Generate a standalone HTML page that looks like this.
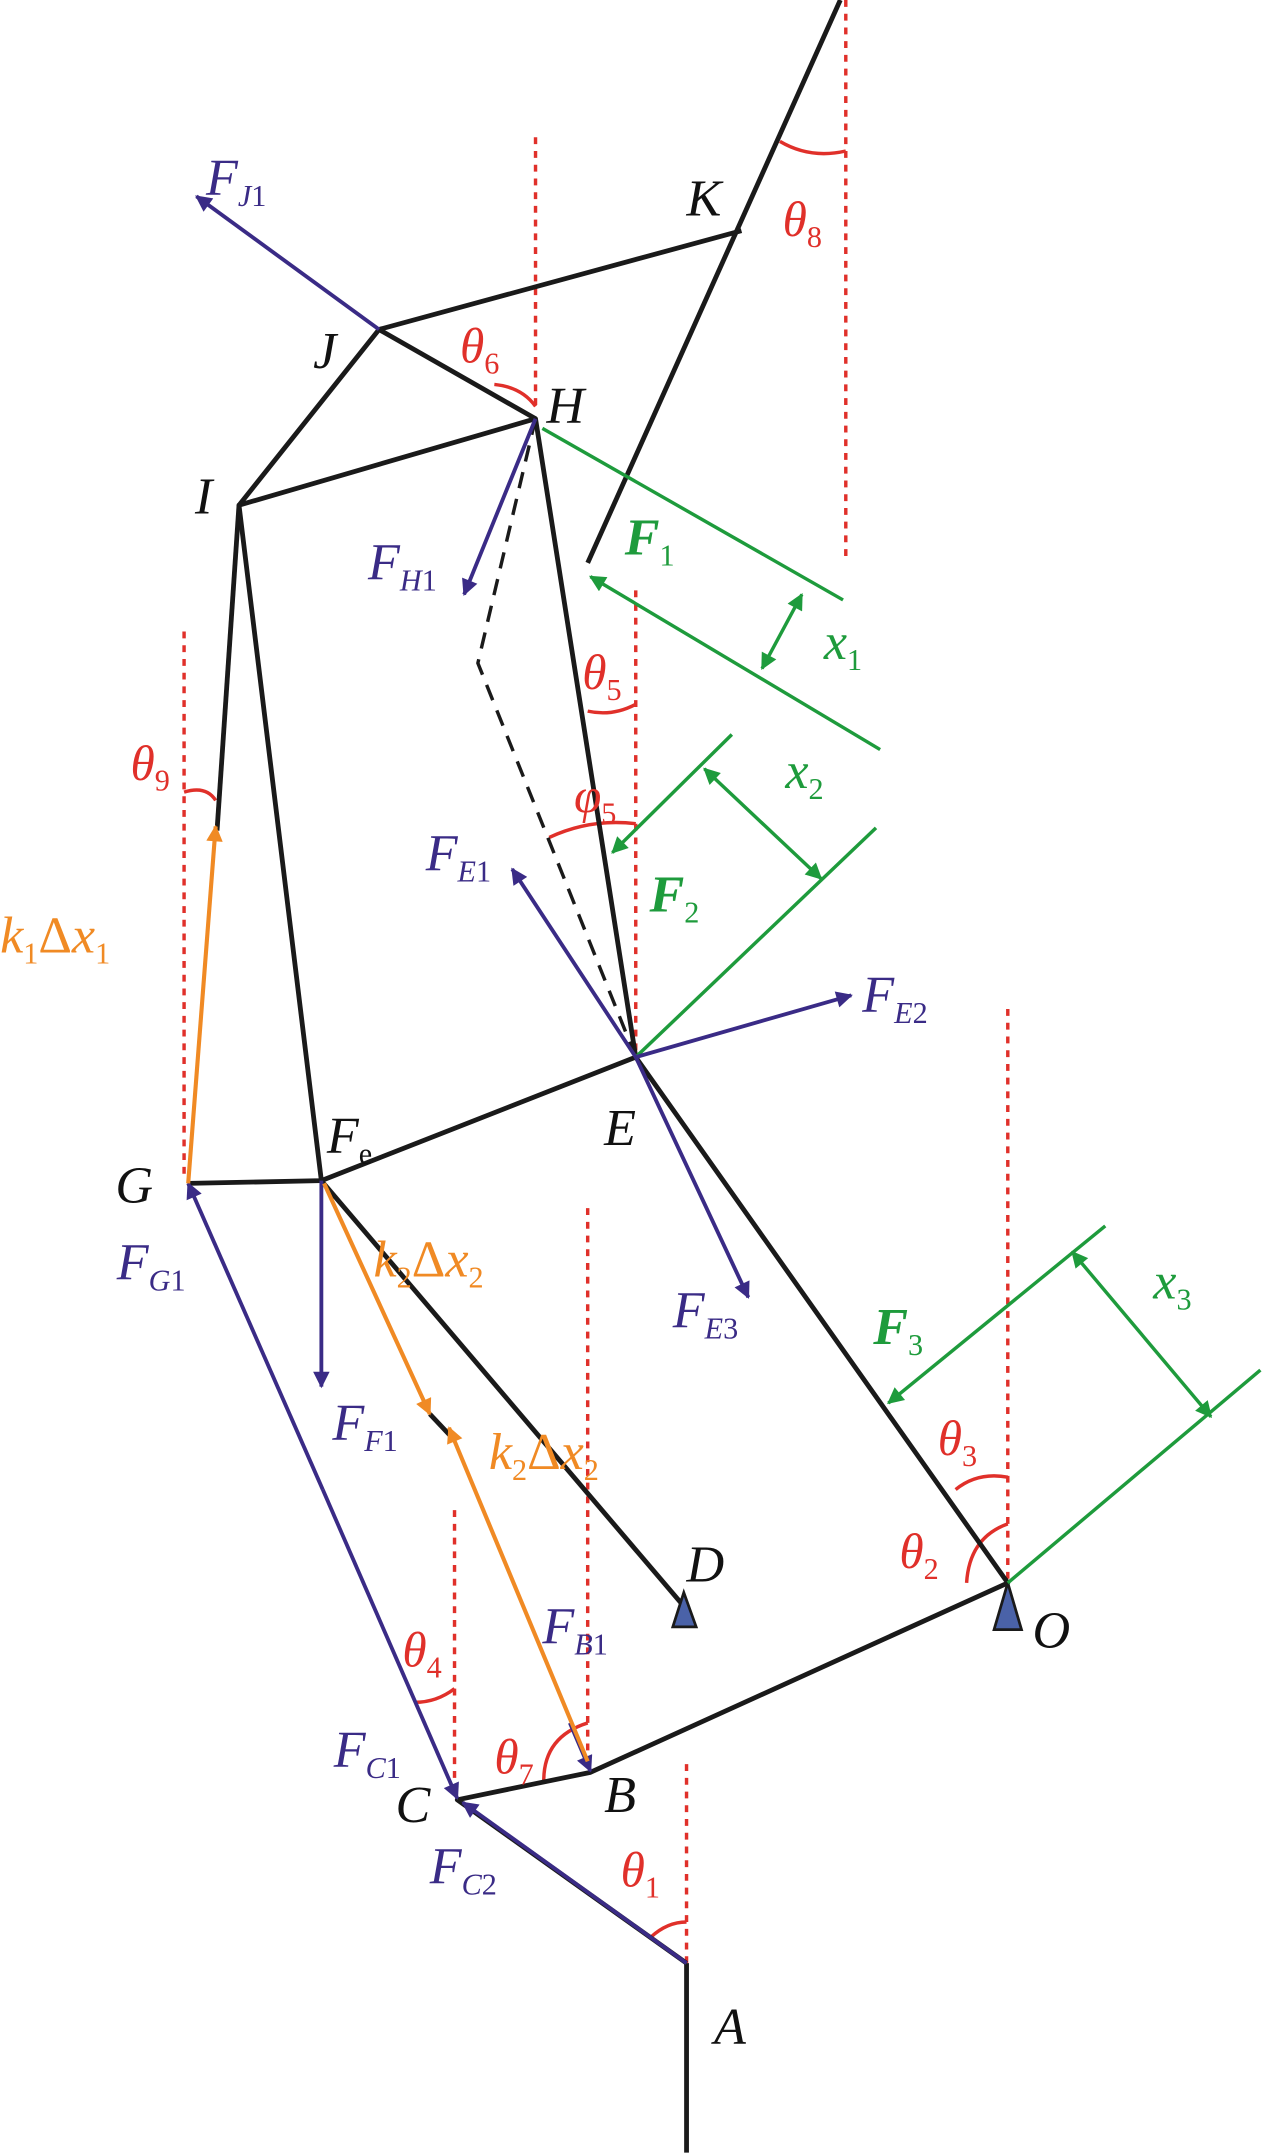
<!DOCTYPE html>
<html><head><meta charset="utf-8"><style>
html,body{margin:0;padding:0;background:#fff;}
svg{display:block;}
text{font-family:"Liberation Serif",serif;font-style:italic;}
</style></head><body>
<svg width="1266" height="2154" viewBox="0 0 922 1569" xmlns="http://www.w3.org/2000/svg">
<defs>
<marker id="pp" viewBox="0 0 10 10" refX="9" refY="5" markerWidth="18" markerHeight="12" orient="auto" markerUnits="userSpaceOnUse"><path d="M0,0 L10,5 L0,10 z" fill="#3a2b86"/></marker>
<marker id="g" viewBox="0 0 10 10" refX="9" refY="5" markerWidth="18" markerHeight="12" orient="auto" markerUnits="userSpaceOnUse"><path d="M0,0 L10,5 L0,10 z" fill="#1e9b3c"/></marker>
<marker id="gs" viewBox="0 0 10 10" refX="9" refY="5" markerWidth="18" markerHeight="12" orient="auto-start-reverse" markerUnits="userSpaceOnUse"><path d="M0,0 L10,5 L0,10 z" fill="#1e9b3c"/></marker>
<marker id="o" viewBox="0 0 10 10" refX="9" refY="5" markerWidth="18" markerHeight="12" orient="auto" markerUnits="userSpaceOnUse"><path d="M0,0 L10,5 L0,10 z" fill="#f08a24"/></marker>
</defs>
<g stroke="#e0302a" stroke-width="2.5" stroke-dasharray="5,5" fill="none">
<line x1="390" y1="100" x2="390" y2="300"/>
<line x1="616" y1="0" x2="616" y2="405"/>
<line x1="463" y1="430" x2="463" y2="770"/>
<line x1="134" y1="460" x2="134" y2="860"/>
<line x1="734" y1="735" x2="734" y2="1153"/>
<line x1="428" y1="880" x2="428" y2="1290"/>
<line x1="331" y1="1100" x2="331" y2="1310"/>
<line x1="500" y1="1285" x2="500" y2="1430"/>
</g>
<g stroke="#e0302a" stroke-width="2.5" fill="none">
<path d="M568,103 Q590,116 616,110"/>
<path d="M360,280 Q380,282 390,296"/>
<path d="M428,518 Q446,522 463,513"/>
<path d="M400,610 Q430,596 463,600"/>
<path d="M134,577 Q150,572 157,583"/>
<path d="M696,1085 Q712,1072 734,1076"/>
<path d="M704,1153 Q706,1120 734,1110"/>
<path d="M302,1240 Q318,1240 331,1230"/>
<path d="M396,1297 Q396,1265 428,1255"/>
<path d="M474,1411 Q486,1400 500,1400"/>
</g>
<g stroke="#1a1a1a" stroke-width="3.5" fill="none" stroke-linejoin="round">
<line x1="500" y1="1430" x2="500" y2="1568"/>
<polyline points="500,1430 333,1311 430,1291 734,1153 463,770 234,860 137,862"/>
<line x1="234" y1="860" x2="498" y2="1170"/>
<polyline points="234,860 174,368 390,305 463,770"/>
<polyline points="174,368 276,240 540,168"/>
<line x1="276" y1="240" x2="390" y2="305"/>
<line x1="158" y1="605" x2="174" y2="368"/>
<line x1="612" y1="0" x2="428" y2="410"/>
<line x1="313" y1="1030" x2="330" y2="1048"/>
<polyline points="390,305 348,483 463,770" stroke-dasharray="12,8" stroke-width="2.5"/>
</g>
<path d="M498,1160 L490,1185 L507,1185 Z" fill="#4a62a8" stroke="#1a1a1a" stroke-width="2"/>
<path d="M734,1153 L724,1187 L744,1187 Z" fill="#4a62a8" stroke="#1a1a1a" stroke-width="2"/>
<g stroke="#1e9b3c" stroke-width="2.5" fill="none">
<line x1="395" y1="312" x2="614" y2="437"/>
<line x1="641" y1="546" x2="430" y2="420" marker-end="url(#g)"/>
<line x1="584" y1="433" x2="555" y2="487" marker-start="url(#gs)" marker-end="url(#gs)"/>
<line x1="533" y1="535" x2="446" y2="621" marker-end="url(#g)"/>
<line x1="463" y1="770" x2="638" y2="603"/>
<line x1="513" y1="560" x2="598" y2="640" marker-start="url(#gs)" marker-end="url(#gs)"/>
<line x1="805" y1="893" x2="647" y2="1022" marker-end="url(#g)"/>
<line x1="734" y1="1153" x2="918" y2="998"/>
<line x1="781" y1="912" x2="882" y2="1032" marker-start="url(#gs)" marker-end="url(#gs)"/>
</g>
<g stroke="#3a2b86" stroke-width="2.8" fill="none">
<line x1="276" y1="240" x2="143" y2="143" marker-end="url(#pp)"/>
<line x1="390" y1="305" x2="338" y2="433" marker-end="url(#pp)"/>
<line x1="463" y1="770" x2="373" y2="633" marker-end="url(#pp)"/>
<line x1="463" y1="770" x2="620" y2="725" marker-end="url(#pp)"/>
<line x1="463" y1="770" x2="545" y2="945" marker-end="url(#pp)"/>
<line x1="235" y1="1085" x2="137" y2="862" marker-end="url(#pp)"/>
<line x1="235" y1="1085" x2="333" y2="1310" marker-end="url(#pp)"/>
<line x1="234" y1="860" x2="234" y2="1010" marker-end="url(#pp)"/>
<line x1="500" y1="1430" x2="337" y2="1313" marker-end="url(#pp)"/>
<line x1="415" y1="1255" x2="430" y2="1290" marker-end="url(#pp)"/>
</g>
<g stroke="#f08a24" stroke-width="3" fill="none">
<line x1="137" y1="862" x2="157" y2="602" marker-end="url(#o)"/>
<line x1="236" y1="862" x2="313" y2="1030" marker-end="url(#o)"/>
<line x1="428" y1="1283" x2="327" y2="1040" marker-end="url(#o)"/>
</g>
<g font-size="38" fill="#111">
<text x="500" y="157">K</text>
<text x="228" y="268">J</text>
<text x="398" y="308">H</text>
<text x="142" y="374">I</text>
<text x="440" y="834">E</text>
<text x="238" y="840">F<tspan font-size="22" font-style="normal" dy="8">e</tspan></text>
<text x="84" y="876">G</text>
<text x="500" y="1152">D</text>
<text x="752" y="1200">O</text>
<text x="440" y="1320">B</text>
<text x="288" y="1327">C</text>
<text x="520" y="1489">A</text>
</g>
<g font-size="38" fill="#3a2b86">
<text x="150" y="142">F<tspan font-size="22" dy="8">J</tspan><tspan font-size="22" font-style="normal">1</tspan></text>
<text x="268" y="422">F<tspan font-size="22" dy="8">H</tspan><tspan font-size="22" font-style="normal">1</tspan></text>
<text x="310" y="634">F<tspan font-size="22" dy="8">E</tspan><tspan font-size="22" font-style="normal">1</tspan></text>
<text x="628" y="737">F<tspan font-size="22" dy="8">E</tspan><tspan font-size="22" font-style="normal">2</tspan></text>
<text x="85" y="932">F<tspan font-size="22" dy="8">G</tspan><tspan font-size="22" font-style="normal">1</tspan></text>
<text x="490" y="967">F<tspan font-size="22" dy="8">E</tspan><tspan font-size="22" font-style="normal">3</tspan></text>
<text x="242" y="1049">F<tspan font-size="22" dy="8">F</tspan><tspan font-size="22" font-style="normal">1</tspan></text>
<text x="395" y="1197">F<tspan font-size="22" dy="8">B</tspan><tspan font-size="22" font-style="normal">1</tspan></text>
<text x="243" y="1287">F<tspan font-size="22" dy="8">C</tspan><tspan font-size="22" font-style="normal">1</tspan></text>
<text x="313" y="1372">F<tspan font-size="22" dy="8">C</tspan><tspan font-size="22" font-style="normal">2</tspan></text>
</g>
<g font-size="38" fill="#1e9b3c">
<text x="455" y="404" font-weight="bold">F<tspan font-size="22" font-weight="normal" font-style="normal" dy="8">1</tspan></text>
<text x="600" y="480">x<tspan font-size="22" font-style="normal" dy="8">1</tspan></text>
<text x="572" y="574">x<tspan font-size="22" font-style="normal" dy="8">2</tspan></text>
<text x="473" y="664" font-weight="bold">F<tspan font-size="22" font-weight="normal" font-style="normal" dy="8">2</tspan></text>
<text x="636" y="979" font-weight="bold">F<tspan font-size="22" font-weight="normal" font-style="normal" dy="8">3</tspan></text>
<text x="840" y="946">x<tspan font-size="22" font-style="normal" dy="8">3</tspan></text>
</g>
<g font-size="38" fill="#f08a24">
<text x="0" y="694">k<tspan font-size="22" font-style="normal" dy="8">1</tspan><tspan font-style="normal" dy="-8">Δ</tspan>x<tspan font-size="22" font-style="normal" dy="8">1</tspan></text>
<text x="272" y="930">k<tspan font-size="22" font-style="normal" dy="8">2</tspan><tspan font-style="normal" dy="-8">Δ</tspan>x<tspan font-size="22" font-style="normal" dy="8">2</tspan></text>
<text x="356" y="1070">k<tspan font-size="22" font-style="normal" dy="8">2</tspan><tspan font-style="normal" dy="-8">Δ</tspan>x<tspan font-size="22" font-style="normal" dy="8">2</tspan></text>
</g>
<g font-size="36" fill="#e0302a">
<text x="570" y="172">θ<tspan font-size="22" font-style="normal" dy="8">8</tspan></text>
<text x="335" y="264">θ<tspan font-size="22" font-style="normal" dy="8">6</tspan></text>
<text x="424" y="502">θ<tspan font-size="22" font-style="normal" dy="8">5</tspan></text>
<text x="418" y="592">φ<tspan font-size="22" font-style="normal" dy="8">5</tspan></text>
<text x="95" y="568">θ<tspan font-size="22" font-style="normal" dy="8">9</tspan></text>
<text x="683" y="1060">θ<tspan font-size="22" font-style="normal" dy="8">3</tspan></text>
<text x="655" y="1142">θ<tspan font-size="22" font-style="normal" dy="8">2</tspan></text>
<text x="293" y="1214">θ<tspan font-size="22" font-style="normal" dy="8">4</tspan></text>
<text x="360" y="1292">θ<tspan font-size="22" font-style="normal" dy="8">7</tspan></text>
<text x="452" y="1374">θ<tspan font-size="22" font-style="normal" dy="8">1</tspan></text>
</g>
</svg>
</body></html>
